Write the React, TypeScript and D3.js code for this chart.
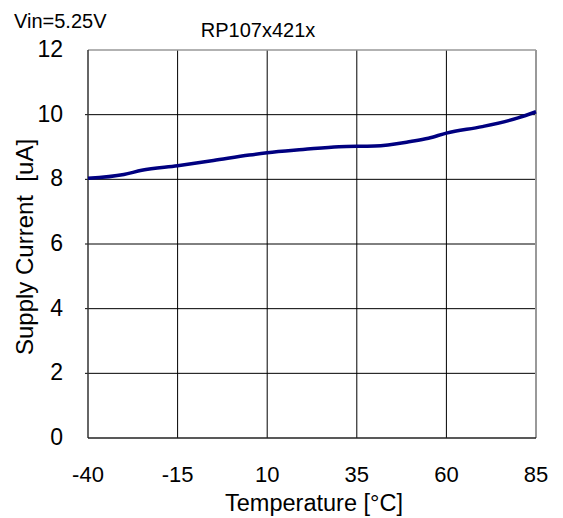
import React from "react";
import * as d3 from "d3";

// Supply current vs. temperature
const temperatures = [-40, -30, -25, -15, -5, 5, 10, 20, 30, 40, 50, 55, 60, 70, 80, 85];
const supplyCurrent = [8.03, 8.15, 8.28, 8.42, 8.58, 8.75, 8.82, 8.92, 9.01, 9.03, 9.17, 9.27, 9.43, 9.63, 9.9, 10.09];
const xTicks = [-40, -15, 10, 35, 60, 85];
const yTicks = [0, 2, 4, 6, 8, 10, 12];

const W = 563;
const H = 518;
const M = { left: 88, right: 536, top: 50, bottom: 438 };
const FONT = "'Liberation Sans', Arial, sans-serif";

export default function App() {
  const x = d3.scaleLinear().domain([-40, 85]).range([M.left, M.right]);
  const y = d3.scaleLinear().domain([0, 12]).range([M.bottom, M.top]);
  const line = d3
    .line<number>()
    .x((_, i) => x(temperatures[i]))
    .y((d) => y(d))
    .curve(d3.curveMonotoneX);

  return (
    <svg
      width={W}
      height={H}
      style={{ position: "absolute", left: 0, top: 0, background: "#fff" }}
      fontFamily={FONT}
    >
      <rect x={0} y={0} width={W} height={H} fill="#fff" />
      {/* grid */}
      {xTicks.slice(1, -1).map((t) => (
        <line key={"gx" + t} x1={x(t)} x2={x(t)} y1={M.top} y2={M.bottom} stroke="#000" strokeWidth={1} />
      ))}
      {yTicks.slice(1, -1).map((t) => (
        <line key={"gy" + t} x1={M.left - 3} x2={M.right} y1={y(t)} y2={y(t)} stroke="#000" strokeWidth={1} />
      ))}
      {/* frame */}
      <line x1={M.left} x2={M.right} y1={M.top} y2={M.top} stroke="#999" strokeWidth={1.5} />
      <line x1={M.right} x2={M.right} y1={M.top} y2={M.bottom} stroke="#999" strokeWidth={2} />
      <line x1={M.left} x2={M.left} y1={M.top} y2={M.bottom} stroke="#333" strokeWidth={1.5} />
      <line x1={M.left} x2={M.right} y1={M.bottom} y2={M.bottom} stroke="#222" strokeWidth={1.5} />

      {/* data */}
      <path d={line(supplyCurrent) ?? ""} fill="none" stroke="#000080" strokeWidth={3.5} strokeLinejoin="round" />

      {/* y tick labels */}
      {yTicks.map((t) => (
        <text key={"ly" + t} x={63} y={y(t) + 7} textAnchor="end" fontSize={23} fill="#000">
          {t}
        </text>
      ))}
      {/* x tick labels */}
      {xTicks.map((t) => (
        <text key={"lx" + t} x={x(t)} y={482} textAnchor="middle" fontSize={22} fill="#000">
          {t}
        </text>
      ))}

      <text x={314} y={511} textAnchor="middle" fontSize={23.5} fill="#000">
        Temperature [°C]
      </text>
      <text
        transform={`translate(33,${(M.top + M.bottom) / 2 + 3}) rotate(-90)`}
        textAnchor="middle"
        fontSize={24}
        fill="#000"
        xmlSpace="preserve"
      >
        Supply Current  [uA]
      </text>
      <text x={14} y={28} fontSize={20} fill="#000">
        Vin=5.25V
      </text>
      <text x={258} y={37} textAnchor="middle" fontSize={20} fill="#000">
        RP107x421x
      </text>
    </svg>
  );
}
